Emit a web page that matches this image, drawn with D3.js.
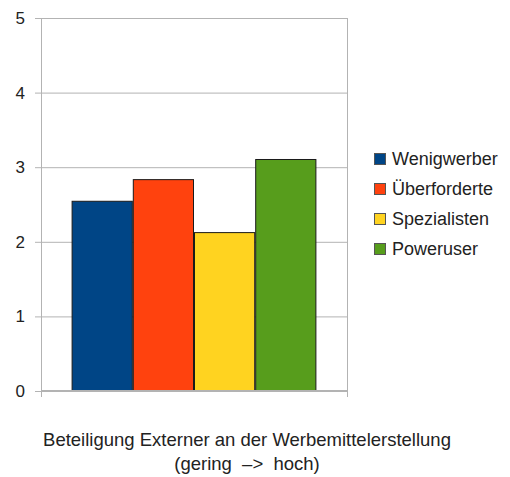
<!DOCTYPE html>
<html>
<head>
<meta charset="utf-8">
<script src="https://cdn.jsdelivr.net/npm/d3@7"></script>
<style>
  body { margin: 0; background: #fff; }
  text { font-family: "Liberation Sans", Arial, sans-serif; fill: #222; }
</style>
</head>
<body>
<div id="chart"></div>
<script>
(function () {
  const series = ["Wenigwerber", "Überforderte", "Spezialisten", "Poweruser"];
  const values = [2.55, 2.84, 2.13, 3.11];
  const colors = ["#004586", "#ff420e", "#ffd320", "#579d1c"];
  const yTicks = [0, 1, 2, 3, 4, 5];
  const titleLines = ["Beteiligung Externer an der Werbemittelerstellung", "(gering  –>  hoch)"];

  const W = 510, H = 477;
  const margin = { top: 18, right: 163, bottom: 86, left: 41 };
  const width = W - margin.left - margin.right;
  const height = H - margin.top - margin.bottom;

  const svg = d3.select("#chart").append("svg")
    .attr("width", W).attr("height", H);
  const g = svg.append("g")
    .attr("transform", `translate(${margin.left},${margin.top})`);

  const y = d3.scaleLinear().domain([0, 5]).range([height, 0]);
  // one category group, bars side by side
  const x0 = d3.scaleBand().domain(["all"]).range([0, width]).paddingOuter(0.125);
  const x1 = d3.scaleBand().domain(series).range([0, x0.bandwidth()]);

  // gridlines
  g.selectAll("line.grid").data(yTicks.slice(1)).join("line")
    .attr("class", "grid")
    .attr("x1", 0).attr("x2", width)
    .attr("y1", d => y(d) + 0.5).attr("y2", d => y(d) + 0.5)
    .attr("stroke", "#b3b3b3").attr("stroke-width", 1);

  // right border
  g.append("line")
    .attr("x1", width + 0.5).attr("x2", width + 0.5)
    .attr("y1", 0).attr("y2", height + 6)
    .attr("stroke", "#b3b3b3");

  // y axis
  const yAxis = g.append("g")
    .call(d3.axisLeft(y).tickValues(yTicks).tickSize(6).tickPadding(10).tickFormat(d3.format("d")));
  yAxis.select(".domain").remove();
  yAxis.selectAll(".tick line").attr("stroke", "#b3b3b3");
  yAxis.selectAll(".tick text")
    .style("font-size", "17px")
    .style("font-family", "'Liberation Sans', Arial, sans-serif")
    .attr("fill", "#222");
  g.append("line")
    .attr("x1", 0.5).attr("x2", 0.5)
    .attr("y1", 0).attr("y2", height + 6)
    .attr("stroke", "#b3b3b3");

  // bars
  g.append("g")
    .attr("transform", `translate(${x0("all")},0)`)
    .selectAll("rect").data(values).join("rect")
    .attr("x", (d, i) => x1(series[i]) + 0.5)
    .attr("y", d => y(d) + 0.5)
    .attr("width", x1.bandwidth() - 1)
    .attr("height", d => height - y(d))
    .attr("fill", (d, i) => colors[i])
    .attr("stroke", "#1a1a1a")
    .attr("stroke-width", 1);

  // x axis baseline
  g.append("line")
    .attr("x1", 0).attr("x2", width + 1)
    .attr("y1", height).attr("y2", height)
    .attr("stroke", "#b3b3b3").attr("stroke-width", 2);

  // legend
  const legend = svg.append("g").attr("transform", "translate(374,159)");
  const item = legend.selectAll("g").data(series).join("g")
    .attr("transform", (d, i) => `translate(0,${i * 30})`);
  item.append("rect")
    .attr("x", 0.5).attr("y", -5.5)
    .attr("width", 11).attr("height", 11)
    .attr("fill", (d, i) => colors[i])
    .attr("stroke", "#555");
  item.append("text")
    .attr("x", 18).attr("y", 0)
    .attr("dy", "0.35em")
    .style("font-size", "18px")
    .text(d => d);

  // axis title
  svg.selectAll("text.title").data(titleLines).join("text")
    .attr("class", "title")
    .attr("x", 247)
    .attr("y", (d, i) => 440 + i * 24)
    .attr("dy", "0.35em")
    .attr("text-anchor", "middle")
    .style("font-size", "18.5px")
    .style("white-space", "pre")
    .text(d => d);
})();
</script>
</body>
</html>
